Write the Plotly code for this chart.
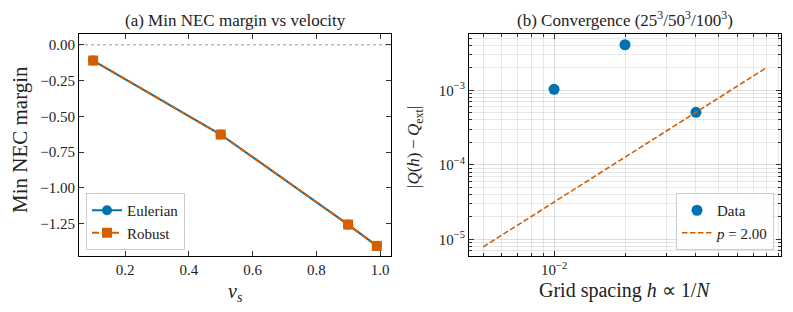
import plotly.graph_objects as go

# ---- data (a) ----
v_s = [0.1, 0.5, 0.9, 0.99]
eulerian = [-0.11, -0.627, -1.256, -1.405]
robust = [-0.11, -0.627, -1.256, -1.405]

# ---- data (b) ----
h = [0.01, 0.02, 0.04]
err = [1.03e-3, 4.09e-3, 5.07e-4]
ref_h = [0.005, 0.08]
ref_err = [7.9e-6, 2.03e-3]

yticks_a = [0.0, -0.25, -0.5, -0.75, -1.0, -1.25]
xticks_a = [0.2, 0.4, 0.6, 0.8, 1.0]
yticks_b = [1e-5, 1e-4, 1e-3]
yticklabels_b = ["10<sup>−5</sup>", "10<sup>−4</sup>", "10<sup>−3</sup>"]
xticks_b = [1e-2]
xticklabels_b = ["10<sup>−2</sup>"]

BLUE = "#0072B2"
ORANGE = "#D55E00"
FONT = "Liberation Serif"
TXT = "#222222"

# page body has an 8px default margin; figure is sized to fill the rest
OFF = 8
W, H = 793 - OFF, 312 - OFF


def px(p):
    return (p - OFF) / W


def py(p):
    return 1 - (p - OFF) / H


fig = go.Figure()

fig.add_trace(go.Scatter(x=v_s, y=eulerian, mode="lines+markers", name="Eulerian",
                         line=dict(color=BLUE, width=2), marker=dict(symbol="circle", size=10, color=BLUE),
                         xaxis="x", yaxis="y", legend="legend"))
fig.add_trace(go.Scatter(x=v_s, y=robust, mode="lines+markers", name="Robust",
                         line=dict(color=ORANGE, width=2, dash="7px,3px"),
                         marker=dict(symbol="square", size=10, color=ORANGE),
                         xaxis="x", yaxis="y", legend="legend"))

minor_x = [k * 1e-3 for k in range(4, 10)] + [k * 1e-2 for k in range(2, 10)]
minor_y = [k * 10 ** e for e in (-6, -5, -4, -3) for k in range(2, 10)]

fig.add_trace(go.Scatter(x=h, y=err, mode="markers", name="Data",
                         marker=dict(symbol="circle", size=11, color=BLUE),
                         xaxis="x2", yaxis="y2", legend="legend2"))
fig.add_trace(go.Scatter(x=ref_h, y=ref_err, mode="lines", name="<i>p</i> = 2.00",
                         line=dict(color=ORANGE, width=1.6, dash="5.5px,2.5px"),
                         xaxis="x2", yaxis="y2", legend="legend2"))


def axis_common():
    return dict(showline=True, linecolor="black", linewidth=1.2, mirror="ticks",
                ticks="inside", ticklen=5, tickwidth=1, tickcolor="#333",
                zeroline=False, tickfont=dict(family=FONT, size=15, color=TXT))


DA_X = [px(79), px(391)]
DB_X = [px(469), px(781)]
D_Y = [py(256), py(34)]

fig.update_layout(
    width=W, height=H,
    margin=dict(l=0, r=0, t=0, b=0),
    paper_bgcolor="white", plot_bgcolor="white",
    font=dict(family=FONT, color=TXT, size=15),
    showlegend=True,
    xaxis=dict(domain=DA_X, range=[0.0555, 1.0345], tickvals=xticks_a,
               tickformat=".1f", showgrid=False, anchor="y", **axis_common()),
    yaxis=dict(domain=D_Y, range=[-1.4755, 0.0755], tickvals=yticks_a,
               tickformat=".2f", showgrid=False, anchor="x", **axis_common()),
    xaxis2=dict(domain=DB_X, type="log", range=[-2.361, -1.037],
                tickvals=xticks_b, ticktext=xticklabels_b, anchor="y2",
                showgrid=True, gridcolor="rgba(0,0,0,0.13)", gridwidth=1,
                minor=dict(tickvals=minor_x, ticks="inside", ticklen=3, showgrid=True,
                           gridcolor="rgba(0,0,0,0.09)", tickcolor="#333"),
                **axis_common()),
    yaxis2=dict(domain=D_Y, type="log", range=[-5.224, -2.244],
                tickvals=yticks_b, ticktext=yticklabels_b, anchor="x2",
                showgrid=True, gridcolor="rgba(0,0,0,0.13)", gridwidth=1,
                minor=dict(tickvals=minor_y, ticks="inside", ticklen=3, showgrid=True,
                           gridcolor="rgba(0,0,0,0.09)", tickcolor="#333"),
                **axis_common()),
    legend=dict(x=px(86), y=py(250), xanchor="left", yanchor="bottom",
                bgcolor="rgba(255,255,255,0.85)", bordercolor="#cccccc", borderwidth=1,
                font=dict(family=FONT, size=15, color=TXT), tracegroupgap=0, itemwidth=30),
    legend2=dict(x=px(774), y=py(250), xanchor="right", yanchor="bottom",
                 bgcolor="rgba(255,255,255,0.85)", bordercolor="#cccccc", borderwidth=1,
                 font=dict(family=FONT, size=15, color=TXT), tracegroupgap=0, itemwidth=30),
    shapes=[dict(type="line", xref="x domain", yref="y", x0=0, x1=1, y0=0, y1=0,
                 line=dict(color="gray", width=0.8, dash="dot"), layer="below")],
    annotations=[
        dict(text="(a) Min NEC margin vs velocity", xref="paper", yref="paper",
             x=sum(DA_X) / 2, y=py(20), xanchor="center", yanchor="middle",
             showarrow=False, font=dict(family=FONT, size=17, color=TXT)),
        dict(text="(b) Convergence (25<sup>3</sup>/50<sup>3</sup>/100<sup>3</sup>)", xref="paper", yref="paper",
             x=sum(DB_X) / 2, y=py(19), xanchor="center", yanchor="middle",
             showarrow=False, font=dict(family=FONT, size=17, color=TXT)),
        dict(text="Min NEC margin", xref="paper", yref="paper", x=px(20), y=py(140),
             textangle=-90, showarrow=False, xanchor="center", yanchor="middle",
             font=dict(family=FONT, size=21, color=TXT)),
        dict(text="<i>v<sub>s</sub></i>", xref="paper", yref="paper", x=px(235), y=py(292),
             showarrow=False, xanchor="center", yanchor="middle", font=dict(family=FONT, size=20, color=TXT)),
        dict(text="|<i>Q</i>(<i>h</i>)\u2009−\u2009<i>Q</i><sub>ext</sub>|", xref="paper", yref="paper",
             x=px(415), y=py(147), textangle=-90, showarrow=False,
             xanchor="center", yanchor="middle", font=dict(family=FONT, size=17, color=TXT)),
        dict(text="Grid spacing <i>h</i> ∝ 1/<i>N</i>", xref="paper", yref="paper",
             x=sum(DB_X) / 2, y=py(290), showarrow=False, xanchor="center", yanchor="middle",
             font=dict(family=FONT, size=20, color=TXT)),
    ],
)

fig.write_html("out.html")
